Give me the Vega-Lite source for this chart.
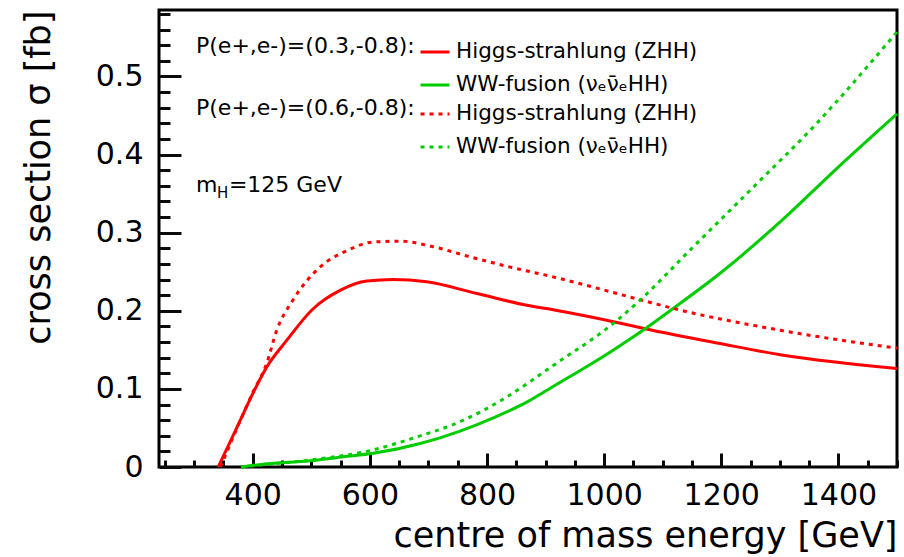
{
  "$schema": "https://vega.github.io/schema/vega-lite/v6.json",
  "width": 738,
  "height": 457,
  "autosize": {"type": "none"},
  "padding": {"left": 159, "top": 10, "right": 7, "bottom": 90},
  "background": "white",
  "config": {
    "font": "DejaVu Sans",
    "view": {"stroke": "black", "strokeWidth": 3},
    "axis": {
      "domain": false,
      "grid": false,
      "labelFontSize": 30,
      "labelFlush": false,
      "titleFontSize": 35,
      "titleFontWeight": "normal"
    },
    "legend": {
      "titleFontSize": 22,
      "titleFontWeight": "normal",
      "titleColor": "black",
      "labelFontSize": 21.5,
      "labelColor": "black",
      "labelLimit": 400,
      "titleLimit": 400,
      "symbolType": "stroke",
      "symbolStrokeWidth": 3,
      "symbolSize": 841,
      "labelOffset": 5,
      "rowPadding": 6,
      "titlePadding": 4,
      "titleAnchor": "start"
    }
  },
  "data": {
    "values": [
      {"E": 341, "sigma": 0, "process": "Higgs-strahlung (ZHH)", "pol": "0.3"},
      {"E": 360, "sigma": 0.03, "process": "Higgs-strahlung (ZHH)", "pol": "0.3"},
      {"E": 380, "sigma": 0.062, "process": "Higgs-strahlung (ZHH)", "pol": "0.3"},
      {"E": 395, "sigma": 0.086, "process": "Higgs-strahlung (ZHH)", "pol": "0.3"},
      {"E": 424, "sigma": 0.128, "process": "Higgs-strahlung (ZHH)", "pol": "0.3"},
      {"E": 458, "sigma": 0.162, "process": "Higgs-strahlung (ZHH)", "pol": "0.3"},
      {"E": 501, "sigma": 0.201, "process": "Higgs-strahlung (ZHH)", "pol": "0.3"},
      {"E": 549, "sigma": 0.226, "process": "Higgs-strahlung (ZHH)", "pol": "0.3"},
      {"E": 595, "sigma": 0.238, "process": "Higgs-strahlung (ZHH)", "pol": "0.3"},
      {"E": 640, "sigma": 0.240, "process": "Higgs-strahlung (ZHH)", "pol": "0.3"},
      {"E": 697, "sigma": 0.237, "process": "Higgs-strahlung (ZHH)", "pol": "0.3"},
      {"E": 783, "sigma": 0.222, "process": "Higgs-strahlung (ZHH)", "pol": "0.3"},
      {"E": 868, "sigma": 0.207, "process": "Higgs-strahlung (ZHH)", "pol": "0.3"},
      {"E": 915, "sigma": 0.201, "process": "Higgs-strahlung (ZHH)", "pol": "0.3"},
      {"E": 1016, "sigma": 0.186, "process": "Higgs-strahlung (ZHH)", "pol": "0.3"},
      {"E": 1070, "sigma": 0.177, "process": "Higgs-strahlung (ZHH)", "pol": "0.3"},
      {"E": 1198, "sigma": 0.158, "process": "Higgs-strahlung (ZHH)", "pol": "0.3"},
      {"E": 1306, "sigma": 0.143, "process": "Higgs-strahlung (ZHH)", "pol": "0.3"},
      {"E": 1500, "sigma": 0.126, "process": "Higgs-strahlung (ZHH)", "pol": "0.3"},

      {"E": 380, "sigma": 0, "process": "WW-fusion (νₑν̄ₑHH)", "pol": "0.3"},
      {"E": 412, "sigma": 0.003, "process": "WW-fusion (νₑν̄ₑHH)", "pol": "0.3"},
      {"E": 498, "sigma": 0.008, "process": "WW-fusion (νₑν̄ₑHH)", "pol": "0.3"},
      {"E": 555, "sigma": 0.013, "process": "WW-fusion (νₑν̄ₑHH)", "pol": "0.3"},
      {"E": 606, "sigma": 0.0175, "process": "WW-fusion (νₑν̄ₑHH)", "pol": "0.3"},
      {"E": 686, "sigma": 0.030, "process": "WW-fusion (νₑν̄ₑHH)", "pol": "0.3"},
      {"E": 754, "sigma": 0.046, "process": "WW-fusion (νₑν̄ₑHH)", "pol": "0.3"},
      {"E": 811, "sigma": 0.063, "process": "WW-fusion (νₑν̄ₑHH)", "pol": "0.3"},
      {"E": 868, "sigma": 0.083, "process": "WW-fusion (νₑν̄ₑHH)", "pol": "0.3"},
      {"E": 915, "sigma": 0.104, "process": "WW-fusion (νₑν̄ₑHH)", "pol": "0.3"},
      {"E": 1010, "sigma": 0.147, "process": "WW-fusion (νₑν̄ₑHH)", "pol": "0.3"},
      {"E": 1070, "sigma": 0.177, "process": "WW-fusion (νₑν̄ₑHH)", "pol": "0.3"},
      {"E": 1118, "sigma": 0.203, "process": "WW-fusion (νₑν̄ₑHH)", "pol": "0.3"},
      {"E": 1198, "sigma": 0.248, "process": "WW-fusion (νₑν̄ₑHH)", "pol": "0.3"},
      {"E": 1301, "sigma": 0.314, "process": "WW-fusion (νₑν̄ₑHH)", "pol": "0.3"},
      {"E": 1397, "sigma": 0.382, "process": "WW-fusion (νₑν̄ₑHH)", "pol": "0.3"},
      {"E": 1500, "sigma": 0.452, "process": "WW-fusion (νₑν̄ₑHH)", "pol": "0.3"},

      {"E": 345, "sigma": 0, "process": "Higgs-strahlung (ZHH)", "pol": "0.6"},
      {"E": 378, "sigma": 0.058, "process": "Higgs-strahlung (ZHH)", "pol": "0.6"},
      {"E": 400, "sigma": 0.095, "process": "Higgs-strahlung (ZHH)", "pol": "0.6"},
      {"E": 424, "sigma": 0.133, "process": "Higgs-strahlung (ZHH)", "pol": "0.6"},
      {"E": 441, "sigma": 0.175, "process": "Higgs-strahlung (ZHH)", "pol": "0.6"},
      {"E": 469, "sigma": 0.214, "process": "Higgs-strahlung (ZHH)", "pol": "0.6"},
      {"E": 515, "sigma": 0.256, "process": "Higgs-strahlung (ZHH)", "pol": "0.6"},
      {"E": 561, "sigma": 0.277, "process": "Higgs-strahlung (ZHH)", "pol": "0.6"},
      {"E": 606, "sigma": 0.288, "process": "Higgs-strahlung (ZHH)", "pol": "0.6"},
      {"E": 652, "sigma": 0.289, "process": "Higgs-strahlung (ZHH)", "pol": "0.6"},
      {"E": 708, "sigma": 0.282, "process": "Higgs-strahlung (ZHH)", "pol": "0.6"},
      {"E": 771, "sigma": 0.269, "process": "Higgs-strahlung (ZHH)", "pol": "0.6"},
      {"E": 839, "sigma": 0.256, "process": "Higgs-strahlung (ZHH)", "pol": "0.6"},
      {"E": 915, "sigma": 0.243, "process": "Higgs-strahlung (ZHH)", "pol": "0.6"},
      {"E": 1062, "sigma": 0.214, "process": "Higgs-strahlung (ZHH)", "pol": "0.6"},
      {"E": 1118, "sigma": 0.203, "process": "Higgs-strahlung (ZHH)", "pol": "0.6"},
      {"E": 1301, "sigma": 0.175, "process": "Higgs-strahlung (ZHH)", "pol": "0.6"},
      {"E": 1500, "sigma": 0.152, "process": "Higgs-strahlung (ZHH)", "pol": "0.6"},

      {"E": 380, "sigma": 0, "process": "WW-fusion (νₑν̄ₑHH)", "pol": "0.6"},
      {"E": 420, "sigma": 0.003, "process": "WW-fusion (νₑν̄ₑHH)", "pol": "0.6"},
      {"E": 498, "sigma": 0.009, "process": "WW-fusion (νₑν̄ₑHH)", "pol": "0.6"},
      {"E": 606, "sigma": 0.022, "process": "WW-fusion (νₑν̄ₑHH)", "pol": "0.6"},
      {"E": 674, "sigma": 0.037, "process": "WW-fusion (νₑν̄ₑHH)", "pol": "0.6"},
      {"E": 754, "sigma": 0.058, "process": "WW-fusion (νₑν̄ₑHH)", "pol": "0.6"},
      {"E": 828, "sigma": 0.087, "process": "WW-fusion (νₑν̄ₑHH)", "pol": "0.6"},
      {"E": 915, "sigma": 0.131, "process": "WW-fusion (νₑν̄ₑHH)", "pol": "0.6"},
      {"E": 1016, "sigma": 0.184, "process": "WW-fusion (νₑν̄ₑHH)", "pol": "0.6"},
      {"E": 1062, "sigma": 0.214, "process": "WW-fusion (νₑν̄ₑHH)", "pol": "0.6"},
      {"E": 1147, "sigma": 0.278, "process": "WW-fusion (νₑν̄ₑHH)", "pol": "0.6"},
      {"E": 1249, "sigma": 0.354, "process": "WW-fusion (νₑν̄ₑHH)", "pol": "0.6"},
      {"E": 1363, "sigma": 0.440, "process": "WW-fusion (νₑν̄ₑHH)", "pol": "0.6"},
      {"E": 1500, "sigma": 0.557, "process": "WW-fusion (νₑν̄ₑHH)", "pol": "0.6"}
    ]
  },
  "layer": [
    {
      "transform": [{"filter": "datum.pol == '0.3'"}],
      "mark": {"type": "line", "strokeWidth": 3, "interpolate": "monotone"},
      "encoding": {
        "x": {
          "field": "E", "type": "quantitative",
          "scale": {"domain": [240, 1500], "nice": false, "zero": false},
          "axis": {
            "orient": "bottom",
            "values": [400, 600, 800, 1000, 1200, 1400],
            "format": "d",
            "ticks": false,
            "labelPadding": 13,
            "title": "centre of mass energy [GeV]",
            "titleAnchor": "end",
            "titlePadding": 8
          }
        },
        "y": {
          "field": "sigma", "type": "quantitative",
          "scale": {"domain": [0, 0.585], "nice": false, "zero": false},
          "axis": {
            "orient": "left",
            "values": [0, 0.1, 0.2, 0.3, 0.4, 0.5],
            "format": "~g",
            "ticks": false,
            "labelPadding": 16,
            "title": "cross section σ [fb]",
            "titleAnchor": "end",
            "titlePadding": 39
          }
        },
        "color": {
          "field": "process", "type": "nominal",
          "scale": {"domain": ["Higgs-strahlung (ZHH)", "WW-fusion (νₑν̄ₑHH)"], "range": ["#ff0000", "#00cc00"]},
          "legend": {
            "orient": "none",
            "legendX": 37,
            "legendY": 26,
            "title": "P(e+,e-)=(0.3,-0.8):",
            "titleOrient": "left",
            "encode": {"title": {"update": {"angle": {"value": 0}, "align": {"value": "left"}, "baseline": {"value": "top"}}}}
          }
        }
      }
    },
    {
      "transform": [{"filter": "datum.pol == '0.6'"}],
      "mark": {"type": "line", "strokeWidth": 3, "strokeDash": [4, 5], "interpolate": "monotone"},
      "encoding": {
        "x": {
          "field": "E", "type": "quantitative",
          "axis": {
            "orient": "bottom",
            "values": [400, 600, 800, 1000, 1200, 1400],
            "offset": -14,
            "tickSize": 14,
            "tickWidth": 3,
            "tickColor": "#0a0a0a",
            "labels": false,
            "title": null
          }
        },
        "y": {
          "field": "sigma", "type": "quantitative",
          "axis": {
            "orient": "left",
            "values": [0, 0.1, 0.2, 0.3, 0.4, 0.5],
            "offset": -22,
            "tickSize": 22,
            "tickWidth": 3,
            "tickColor": "#0a0a0a",
            "labels": false,
            "title": null
          }
        },
        "color": {
          "field": "process", "type": "nominal",
          "scale": {"domain": ["Higgs-strahlung (ZHH)", "WW-fusion (νₑν̄ₑHH)"], "range": ["#ff0000", "#00cc00"]},
          "legend": {
            "orient": "none",
            "legendX": 37,
            "legendY": 88,
            "title": "P(e+,e-)=(0.6,-0.8):",
            "titleOrient": "left",
            "symbolDash": [4, 5],
            "encode": {"title": {"update": {"angle": {"value": 0}, "align": {"value": "left"}, "baseline": {"value": "top"}}}}
          }
        }
      }
    },
    {
      "data": {"values": [{}]},
      "mark": {"type": "text", "align": "left", "baseline": "alphabetic", "fontSize": 22, "color": "black"},
      "encoding": {
        "x": {"datum": 303, "type": "quantitative",
          "axis": {"orient": "bottom", "values": [250, 300, 350, 450, 500, 550, 650, 700, 750, 850, 900, 950, 1050, 1100, 1150, 1250, 1300, 1350, 1450, 1500], "offset": -7, "tickSize": 7, "tickWidth": 3, "tickColor": "#0a0a0a", "labels": false, "title": null}},
        "y": {"datum": 0.352, "type": "quantitative",
          "axis": {"orient": "left", "values": [0.02, 0.04, 0.06, 0.08, 0.12, 0.14, 0.16, 0.18, 0.22, 0.24, 0.26, 0.28, 0.32, 0.34, 0.36, 0.38, 0.42, 0.44, 0.46, 0.48, 0.52, 0.54, 0.56, 0.58], "offset": -11, "tickSize": 11, "tickWidth": 3, "tickColor": "#0a0a0a", "labels": false, "title": null}},
        "text": {"value": "m"}
      }
    },
    {
      "data": {"values": [{}]},
      "mark": {"type": "text", "align": "left", "baseline": "alphabetic", "fontSize": 15, "dx": 21, "dy": 6, "color": "black"},
      "encoding": {
        "x": {"datum": 303, "type": "quantitative", "axis": null},
        "y": {"datum": 0.352, "type": "quantitative", "axis": null},
        "text": {"value": "H"}
      }
    },
    {
      "data": {"values": [{}]},
      "mark": {"type": "text", "align": "left", "baseline": "alphabetic", "fontSize": 22, "dx": 33, "color": "black"},
      "encoding": {
        "x": {"datum": 303, "type": "quantitative", "axis": null},
        "y": {"datum": 0.352, "type": "quantitative", "axis": null},
        "text": {"value": "=125 GeV"}
      }
    }
  ],
  "resolve": {
    "scale": {"color": "independent"},
    "axis": {"x": "independent", "y": "independent"}
  }
}
